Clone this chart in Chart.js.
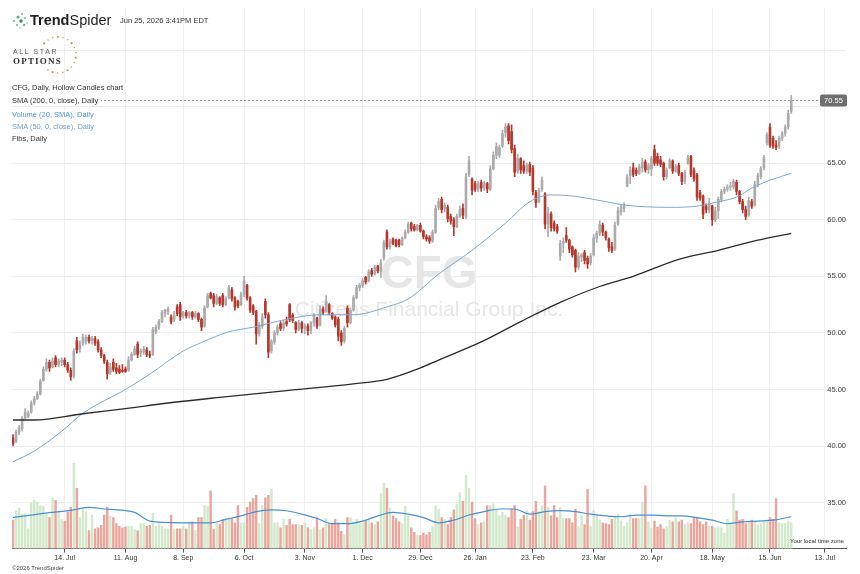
<!DOCTYPE html>
<html>
<head>
<meta charset="utf-8">
<script src="https://cdn.jsdelivr.net/npm/chart.js@4.4.1/dist/chart.umd.min.js"></script>
<style>
  html, body { margin:0; padding:0; background:#fff; }
  #wrap { position:relative; width:860px; height:574px; overflow:hidden; font-family:"Liberation Sans", Arial, sans-serif; }
  #chart { position:absolute; left:0; top:0; }
  .t { position:absolute; white-space:nowrap; color:#333; line-height:1; }
  .lg { font-size:7.5px; background:#fff; padding-right:3px; }
</style>
</head>
<body>
<div id="wrap">
  <canvas id="chart" width="860" height="574"></canvas>

  <svg class="t" style="left:10px;top:11px" width="20" height="20" viewBox="0 0 20 20">
    <circle cx="4" cy="10" r="1.3" fill="#8fc7a0"/><circle cx="8" cy="6" r="1.6" fill="#5fae7a"/>
    <circle cx="12" cy="3" r="1.2" fill="#9ccbb0"/><circle cx="11" cy="10" r="1.8" fill="#3f8f5e"/>
    <circle cx="15" cy="7" r="1.1" fill="#7fbf93"/><circle cx="7" cy="14" r="1.2" fill="#8fc7a0"/>
    <circle cx="14" cy="14" r="1.3" fill="#6fb487"/><circle cx="17" cy="12" r="0.9" fill="#a9d4b8"/>
    <circle cx="10" cy="17" r="0.9" fill="#a9d4b8"/>
  </svg>
  <div class="t" style="left:30px;top:13px;font-size:14.5px;color:#1f1f1f"><b>Trend</b>Spider</div>
  <div class="t" style="left:120px;top:17px;font-size:7.5px;color:#333">Jun 25, 2026 3:41PM EDT</div>

  <svg class="t" style="left:0px;top:30px" width="90" height="50" viewBox="0 0 90 50" id="stars"></svg>
  <div class="t" style="left:13px;top:48px;font-size:7px;letter-spacing:1.6px;color:#666">ALL STAR</div>
  <div class="t" style="left:13px;top:57px;font-size:9px;letter-spacing:1.2px;color:#333;font-family:'Liberation Serif',serif;font-weight:bold">OPTIONS</div>

  <div class="t lg" style="left:12px;top:84px;color:#333">CFG, Daily, Hollow Candles chart</div>
  <div class="t lg" style="left:12px;top:97px;color:#333">SMA (200, 0, close), Daily</div>
  <div class="t lg" style="left:12px;top:111px;color:#4f95d6">Volume (20, SMA), Daily</div>
  <div class="t lg" style="left:12px;top:123px;color:#6f9fcc">SMA (50, 0, close), Daily</div>
  <div class="t lg" style="left:12px;top:135px;color:#333">Fibs, Daily</div>

  <div class="t" style="left:790px;top:538px;font-size:6px;color:#333">Your local time zone</div>
  <div class="t" style="left:12px;top:565px;font-size:6px;color:#444">©2026 TrendSpider</div>
</div>
<script>
// CFG daily candles, Jun 17 2025 .. Jun 25 2026  [open, high, low, close]
const ohlc = [
  [40.7,41.0,40.0,40.2],[40.4,41.4,40.3,41.2],[41.2,41.8,41.0,41.6],[41.5,42.6,41.3,42.4],[42.5,43.3,42.3,43.0],
  [42.6,43.1,42.5,42.9],[43.0,44.0,42.9,43.8],[43.8,44.4,43.6,44.2],[44.2,44.8,44.1,44.6],[44.6,45.9,44.5,45.7],
  [45.8,47.0,45.7,46.8],[46.8,47.7,46.6,47.4],[47.4,47.6,46.6,46.9],[47.0,47.8,46.9,47.5],[47.8,48.0,47.0,47.2],
  [47.2,47.7,47.0,47.5],[47.4,47.8,47.1,47.6],[47.6,47.8,47.0,47.2],[47.2,47.4,46.5,46.7],[46.7,46.9,45.8,46.1],
  [46.2,48.6,46.0,48.4],[49.3,49.6,48.2,48.5],[48.6,49.3,48.3,49.1],[49.1,49.9,48.9,49.6],[49.2,49.8,49.0,49.6],
  [49.6,49.8,49.1,49.3],[49.3,49.7,49.0,49.5],[49.5,49.7,48.9,49.1],[49.2,49.4,48.3,48.5],[48.5,48.7,47.8,48.0],
  [48.0,48.1,47.3,47.5],[47.4,47.6,45.9,46.4],[46.5,47.3,46.3,47.0],[47.4,47.7,46.6,46.8],[46.9,47.3,46.4,46.6],
  [46.8,47.1,46.4,46.5],[46.7,47.2,46.5,46.6],[46.8,47.0,46.5,46.6],[46.7,47.9,46.6,47.6],[47.6,48.3,47.5,48.1],
  [48.1,48.8,48.0,48.6],[49.0,49.2,47.8,48.1],[48.2,48.6,47.9,48.4],[48.3,48.8,48.1,48.6],[48.5,48.7,47.9,48.1],
  [48.1,48.4,47.8,48.0],[48.1,50.5,48.0,50.3],[50.1,50.7,49.9,50.5],[50.5,51.2,50.3,51.0],[51.0,52.0,50.9,51.8],
  [51.7,52.1,51.4,52.0],[51.9,52.3,51.6,52.1],[51.4,51.6,50.8,51.0],[51.2,51.9,51.0,51.6],[52.3,52.5,51.5,51.7],
  [52.5,52.7,51.1,51.4],[51.5,51.9,51.3,51.8],[51.8,52.0,51.3,51.5],[51.5,51.9,51.3,51.8],[51.8,51.9,51.2,51.4],
  [51.4,51.9,51.3,51.7],[51.7,51.8,51.0,51.2],[51.2,51.3,50.2,50.5],[50.6,52.4,50.5,52.2],[52.3,53.5,52.2,53.3],
  [53.5,53.6,53.0,53.1],[53.3,53.5,52.3,52.6],[52.6,53.4,52.5,53.2],[53.1,53.2,52.4,52.6],[53.3,53.5,52.3,52.5],
  [52.5,53.2,52.4,53.0],[53.1,54.2,53.0,54.0],[53.8,54.0,52.8,53.0],[53.1,53.2,52.0,52.3],[52.8,52.9,52.2,52.4],
  [52.5,53.6,52.4,53.4],[53.4,55.0,53.2,54.6],[54.2,54.3,52.9,53.1],[53.1,53.2,51.8,52.0],[52.4,52.5,51.6,51.8],
  [51.9,52.0,49.0,49.9],[49.9,50.9,49.7,50.7],[50.6,51.7,50.4,51.4],[52.8,53.0,51.3,51.6],[51.6,51.8,47.8,48.3],
  [48.4,49.4,48.2,49.2],[49.2,50.2,49.0,50.0],[50.0,50.7,49.8,50.5],[50.8,51.0,50.2,50.4],[50.4,51.1,50.2,50.9],
  [51.0,51.4,50.6,50.8],[52.5,52.6,51.0,51.2],[51.6,51.7,50.9,51.1],[50.9,51.0,50.0,50.3],[50.3,51.1,50.2,50.9],
  [50.9,51.0,50.0,50.4],[50.4,50.8,49.9,50.6],[50.6,50.8,49.8,50.2],[50.2,51.0,49.9,50.9],[50.9,51.7,50.6,51.5],
  [51.3,51.4,50.4,50.6],[50.7,52.4,50.6,52.1],[52.1,52.3,51.6,51.8],[51.9,53.3,51.8,52.8],[52.5,52.6,51.6,51.8],
  [51.7,51.8,51.2,51.3],[51.4,51.5,50.5,50.7],[51.2,51.4,49.3,49.7],[50.0,50.2,48.9,49.2],[49.3,50.6,49.1,50.4],
  [52.2,52.4,50.5,50.9],[50.9,52.2,50.8,52.0],[52.0,53.3,51.9,53.1],[53.1,54.2,53.0,54.0],[54.0,54.4,53.7,54.2],
  [54.2,54.8,54.0,54.6],[54.9,55.0,54.3,54.5],[54.6,55.6,54.5,55.4],[55.5,55.7,55.0,55.2],[55.2,56.0,55.1,55.8],
  [55.9,56.0,55.3,55.5],[55.4,56.5,54.9,56.2],[56.6,58.2,56.4,58.0],[58.9,59.1,57.4,57.6],[57.6,58.3,57.4,58.1],
  [58.3,58.4,57.8,57.9],[58.2,58.3,57.6,57.7],[58.2,58.3,57.6,57.8],[57.8,58.5,57.7,58.4],[58.4,59.1,58.3,58.9],
  [58.9,59.8,58.8,59.6],[59.7,59.8,59.0,59.2],[59.4,59.6,59.0,59.1],[59.1,59.6,59.0,59.5],[59.5,59.7,58.9,59.0],
  [59.0,59.1,58.3,58.5],[58.5,58.7,58.1,58.3],[58.4,58.6,57.9,58.1],[58.1,59.1,58.0,58.9],[58.9,61.3,58.8,61.0],
  [61.1,61.9,60.9,61.6],[61.8,62.0,60.6,60.9],[61.0,61.5,60.7,61.3],[61.1,61.3,59.8,60.1],[60.3,60.5,59.6,59.9],
  [60.0,60.2,58.6,59.4],[59.4,60.5,59.3,60.3],[60.3,61.2,60.2,60.9],[61.0,61.4,60.1,60.4],[60.3,64.1,60.1,63.8],
  [64.0,65.6,63.8,65.2],[63.6,63.7,62.2,62.6],[63.2,63.4,62.5,62.7],[62.7,63.4,62.5,63.2],[63.3,63.5,62.5,62.8],
  [62.8,63.4,62.6,63.2],[63.2,63.3,62.4,62.7],[62.7,64.8,62.6,64.5],[64.5,66.0,64.4,65.7],[65.7,66.8,65.4,66.5],
  [65.7,66.6,65.5,66.4],[66.5,67.9,66.4,67.6],[67.7,68.5,67.3,68.2],[68.3,68.5,66.7,67.0],[67.8,68.4,65.9,66.2],
  [66.3,66.6,63.8,64.2],[64.3,65.8,64.1,65.4],[65.4,65.5,64.1,64.4],[64.8,65.2,64.1,64.3],[64.3,65.0,64.1,64.8],
  [64.9,65.1,63.9,64.2],[64.6,64.8,62.2,62.5],[62.4,62.6,61.1,61.5],[61.6,62.8,61.5,62.6],[62.7,63.8,62.5,63.5],
  [62.3,62.4,59.2,59.6],[59.6,61.1,58.5,60.6],[60.5,60.7,59.0,59.3],[59.7,59.9,59.0,59.2],[59.4,59.6,58.8,59.0],
  [56.8,58.2,56.4,57.9],[57.9,58.4,57.1,58.1],[58.6,59.3,58.0,58.2],[58.2,58.3,57.1,57.4],[57.6,57.7,56.7,56.9],
  [57.3,57.4,55.4,55.8],[55.8,57.1,55.6,56.8],[56.7,57.0,56.3,56.9],[57.1,57.3,56.1,56.4],[56.6,56.8,55.7,56.1],
  [56.2,57.0,56.0,56.8],[56.9,58.7,56.8,58.4],[58.4,59.0,58.0,58.8],[58.8,59.9,58.6,59.6],[59.5,59.7,58.6,58.9],
  [58.9,59.0,58.2,58.4],[58.3,58.4,57.2,57.5],[57.6,58.0,57.1,57.3],[57.4,59.8,57.3,59.5],[59.6,61.1,59.5,60.8],
  [60.7,61.3,60.4,61.1],[61.0,61.5,60.7,61.3],[63.0,64.0,62.9,63.8],[63.9,64.7,63.2,64.4],[64.6,65.0,63.8,64.0],
  [64.4,64.6,63.9,64.1],[64.1,64.9,64.0,64.7],[64.6,65.4,64.2,65.1],[65.1,65.3,64.2,64.4],[64.4,65.0,64.1,64.8],
  [64.5,65.6,63.9,65.4],[66.2,66.6,64.8,65.0],[65.6,65.9,64.8,65.0],[65.3,65.6,64.7,64.9],[65.0,65.1,63.5,63.8],
  [63.8,64.6,63.6,64.4],[64.6,65.4,64.5,65.2],[65.2,65.3,64.1,64.3],[64.3,64.9,64.2,64.7],[64.8,65.0,63.9,64.1],
  [64.1,64.2,63.1,63.4],[63.4,64.4,63.2,64.2],[65.0,65.7,64.9,65.5],[65.6,65.7,63.8,64.0],[64.4,64.6,63.4,63.6],
  [64.0,64.1,61.7,62.0],[62.4,62.6,61.7,61.9],[62.1,62.2,60.1,60.5],[61.2,61.4,60.6,60.9],[60.9,61.9,60.6,61.5],
  [61.2,61.3,59.5,60.0],[60.0,61.1,59.8,60.8],[60.8,62.0,60.1,61.8],[61.8,62.7,61.6,62.5],[62.5,62.9,62.3,62.7],
  [62.7,63.1,62.5,62.9],[62.9,63.3,62.6,63.0],[62.9,63.6,62.7,63.4],[63.3,63.5,62.2,62.5],[62.5,62.6,61.4,61.6],
  [61.6,61.8,60.6,60.9],[60.9,61.2,60.0,60.3],[60.4,62.0,60.3,61.7],[61.6,61.8,61.0,61.2],[61.3,63.4,61.2,63.1],
  [63.1,64.1,62.9,63.9],[63.8,64.7,63.6,64.5],[64.6,65.7,64.4,65.5],[66.8,67.7,66.6,67.5],[68.2,68.5,66.4,66.6],
  [67.2,67.4,66.3,66.5],[66.6,67.0,66.2,66.4],[66.5,67.4,66.3,67.2],[67.2,67.8,67.0,67.6],[67.6,68.4,67.4,68.2],
  [68.2,69.7,68.0,69.4],[69.6,71.0,69.4,70.55]
];

// daily volume, millions
const volumes = [
  3.3,4.4,4.7,4.0,4.1,2.3,5.3,5.6,5.4,5.0, 4.9,4.0,3.6,5.9,5.6,4.4,3.4,3.2,4.2,4.8,
  9.9,7.0,3.6,4.5,4.3,2.1,3.9,2.3,2.4,2.7, 3.9,4.8,3.8,3.6,2.9,2.6,2.4,2.5,2.6,2.6,
  2.2,2.1,2.9,2.9,2.6,2.7,4.1,2.6,2.9,2.6, 2.3,2.3,3.9,2.3,2.3,2.3,2.6,2.3,3.1,3.1,
  2.1,3.6,3.6,5.0,4.9,6.7,2.2,2.9,2.8,3.4, 3.5,3.6,3.5,3.0,5.0,3.0,3.0,4.8,5.4,5.8,
  6.2,2.9,5.0,5.9,6.2,6.9,3.0,3.0,2.4,3.4, 2.7,3.4,2.8,2.8,2.8,2.7,3.0,2.4,2.2,2.4,
  3.6,2.2,2.4,3.5,2.9,2.9,3.4,3.0,2.0,1.6, 3.6,3.6,3.1,3.4,2.9,3.0,3.2,3.3,3.0,2.8,
  3.1,6.4,7.6,7.0,4.7,3.8,3.5,3.1,2.9,4.9, 3.8,2.4,1.9,1.6,1.5,1.8,1.6,1.9,2.6,5.0,
  4.6,3.6,3.4,2.8,3.6,4.5,5.2,6.5,5.5,8.5, 7.0,5.4,3.5,2.8,3.0,3.1,5.0,5.0,5.2,4.5,
  3.8,4.2,3.9,3.6,4.6,5.0,2.5,3.4,3.9,4.4, 3.3,4.3,5.5,4.3,5.0,7.3,4.8,3.8,5.0,3.6,
  4.8,3.5,3.5,3.5,3.0,4.6,2.6,3.8,2.8,6.9, 2.6,4.4,3.8,3.3,3.0,2.9,2.8,3.4,3.8,4.0,
  3.2,2.6,3.0,4.0,3.5,3.5,3.5,5.4,7.3,3.1, 2.4,3.2,2.5,2.8,2.3,2.6,3.3,3.1,3.6,3.1,
  3.3,2.8,3.0,2.9,3.6,3.6,3.1,2.8,3.1,2.6, 2.6,2.4,2.5,2.4,1.8,3.4,3.0,6.4,4.4,3.3,
  3.4,2.9,3.0,3.3,3.1,2.8,2.9,3.1,3.3,3.6, 3.4,5.8,3.0,2.9,2.9,3.2,3.0
];

// moving averages: [trading-day index, value]
const sma200Pts = [[0,42.3],[7,42.3],[23,42.85],[37,43.3],[51,43.8],[68,44.3],[90,44.9],[112,45.5],[123,45.9],
  [134,46.9],[140,47.6],[154,49.2],[167,51.0],[180,52.7],[193,54.1],[204,55.0],[219,56.5],[232,57.3],[245,58.2],[256,58.8]];
const sma50Pts = [[0,38.6],[7,39.55],[16,41.3],[23,42.9],[37,45.0],[45,46.35],[56,48.4],[62,49.15],[71,50.1],[79,50.5],
  [90,51.2],[101,51.6],[112,51.6],[123,52.3],[130,53.0],[140,55.2],[151,57.3],[162,59.7],[170,61.6],[177,62.2],
  [184,62.1],[195,61.6],[201,61.3],[216,61.1],[225,61.2],[232,61.6],[238,62.0],[243,62.8],[249,63.5],[256,64.1]];
const volSmaPts = [[0,3.6],[10,4.1],[20,4.5],[25,4.8],[30,4.6],[40,4.2],[45,3.2],[55,3.0],[65,3.0],[70,3.4],[75,3.8],
  [80,4.3],[85,4.5],[90,4.4],[95,4.0],[100,3.5],[105,2.9],[110,2.9],[115,3.2],[120,3.8],[125,4.2],[130,4.0],[135,3.6],
  [140,3.0],[145,3.3],[150,3.9],[155,4.3],[160,4.6],[165,4.6],[170,4.0],[175,4.3],[180,4.4],[185,4.3],[190,4.0],
  [195,3.8],[200,3.7],[205,3.9],[210,3.9],[215,3.8],[220,3.8],[225,3.6],[230,3.3],[235,2.9],[240,3.1],[245,3.2],
  [250,3.3],[256,3.7]];

const priceTicks = [35, 40, 45, 50, 55, 60, 65, 70, 75];
const tickLabels = ['14. Jul','11. Aug','8. Sep','6. Oct','3. Nov','1. Dec','29. Dec','26. Jan','23. Feb','23. Mar','20. Apr','18. May','15. Jun','13. Jul'];
const tickDates = ['2025-07-14','2025-08-11','2025-09-08','2025-10-06','2025-11-03','2025-12-01','2025-12-29',
  '2026-01-26','2026-02-23','2026-03-23','2026-04-20','2026-05-18','2026-06-15','2026-07-13'];
const holidays = ['2025-06-19','2025-07-04','2025-09-01','2025-11-27','2025-12-25','2026-01-01','2026-01-19',
  '2026-02-16','2026-04-03','2026-05-25','2026-06-19','2026-07-03'];

// trading-day calendar (index 0 = 2025-06-17)
const days = [];
for (let d = new Date(Date.UTC(2025, 5, 17)); d <= new Date(Date.UTC(2026, 6, 31)); d.setUTCDate(d.getUTCDate() + 1)) {
  const s = d.toISOString().slice(0, 10);
  const wd = d.getUTCDay();
  if (wd === 0 || wd === 6 || holidays.includes(s)) continue;
  days.push(s);
}
const tickIdx = tickDates.map(s => days.indexOf(s));

const FONT = '"Liberation Sans", Arial, sans-serif';
Chart.defaults.font.family = FONT;

const UP = '#ababab', DOWN = '#b5382c';
const up = ohlc.map(r => r[3] >= r[0]);
const lastPrice = ohlc[ohlc.length - 1][3];
const toXY = pts => pts.map(p => ({x: p[0], y: p[1]}));

const watermark = {
  id: 'watermark',
  beforeDatasetsDraw(chart) {
    const {ctx, chartArea: a} = chart;
    const cx = (a.left + a.right) / 2;
    ctx.save();
    ctx.fillStyle = '#e6e6e6';
    ctx.textAlign = 'center';
    ctx.font = 'bold 46px ' + FONT;
    ctx.fillText('CFG', cx, 288);
    ctx.font = '21px ' + FONT;
    ctx.fillText('Citizens Financial Group Inc.', cx, 316);
    ctx.restore();
  }
};

const lastPriceMark = {
  id: 'lastPrice',
  afterDraw(chart) {
    const {ctx, chartArea: a} = chart;
    const y = Math.round(chart.scales.y.getPixelForValue(lastPrice)) + 0.5;
    ctx.save();
    ctx.strokeStyle = '#9a9a9a';
    ctx.lineWidth = 1;
    ctx.setLineDash([2, 2]);
    ctx.beginPath();
    ctx.moveTo(a.left, y);
    ctx.lineTo(a.right - 26, y);
    ctx.stroke();
    ctx.setLineDash([]);
    ctx.fillStyle = '#6e6e6e';
    ctx.beginPath();
    ctx.roundRect(a.right - 26, y - 6, 27, 12, 2);
    ctx.fill();
    ctx.fillStyle = '#fff';
    ctx.font = '7.5px ' + FONT;
    ctx.textAlign = 'center';
    ctx.textBaseline = 'middle';
    ctx.fillText(lastPrice.toFixed(2), a.right - 12.5, y + 0.5);
    ctx.restore();
  }
};

new Chart(document.getElementById('chart'), {
  type: 'bar',
  data: {
    datasets: [
      {
        type: 'line', label: 'SMA 200', data: toXY(sma200Pts),
        borderColor: '#2b2b2b', borderWidth: 1.3, pointRadius: 0,
        cubicInterpolationMode: 'monotone', yAxisID: 'y', order: 0
      },
      {
        type: 'line', label: 'SMA 50', data: toXY(sma50Pts),
        borderColor: '#7fa8d0', borderWidth: 1, pointRadius: 0,
        cubicInterpolationMode: 'monotone', yAxisID: 'y', order: 1
      },
      {
        label: 'Bodies', data: ohlc.map((r, i) => ({x: i, y: [r[0], r[3]]})),
        backgroundColor: up.map(u => u ? UP : DOWN), barThickness: 2, minBarLength: 1,
        grouped: false, yAxisID: 'y', order: 2
      },
      {
        label: 'Wicks', data: ohlc.map((r, i) => ({x: i, y: [r[2], r[1]]})),
        backgroundColor: up.map(u => u ? UP : DOWN), barThickness: 1,
        grouped: false, yAxisID: 'y', order: 3
      },
      {
        type: 'line', label: 'Volume SMA', data: toXY(volSmaPts),
        borderColor: '#4a8fd3', borderWidth: 1.2, pointRadius: 0,
        cubicInterpolationMode: 'monotone', yAxisID: 'yv', order: 4
      },
      {
        label: 'Volume', data: volumes.map((v, i) => ({x: i, y: v})),
        backgroundColor: up.map(u => u ? '#d2eacb' : '#eaa69d'), barThickness: 1.8,
        grouped: false, yAxisID: 'yv', order: 5
      }
    ]
  },
  options: {
    responsive: false,
    animation: false,
    events: [],
    layout: {padding: {left: 12, right: 14, top: 8, bottom: 11}},
    plugins: {legend: {display: false}, tooltip: {enabled: false}},
    scales: {
      x: {
        type: 'linear', min: -0.33, max: 274, offset: false,
        afterBuildTicks: s => { s.ticks = tickIdx.map(v => ({value: v})); },
        ticks: {
          autoSkip: false, maxRotation: 0, padding: 1, color: '#333', font: {size: 7},
          callback: v => tickLabels[tickIdx.indexOf(v)]
        },
        grid: {color: '#efefef', tickColor: '#555', tickLength: 4, offset: false},
        border: {color: '#555'}
      },
      y: {
        type: 'linear', position: 'right', min: 30.93, max: 78.72,
        afterBuildTicks: s => { s.ticks = priceTicks.map(v => ({value: v})); },
        ticks: {mirror: true, padding: 0, color: '#444', font: {size: 7.5},
          callback: v => v <= 65 ? v.toFixed(2) : ''},
        grid: {color: '#efefef', drawTicks: false},
        border: {display: false}
      },
      yv: {type: 'linear', display: false, min: 0, max: 62.8}
    }
  },
  plugins: [watermark, lastPriceMark]
});

// gold star ring of the ALL STAR OPTIONS logo
const svg = document.getElementById('stars');
for (let k = 0; k < 17; k++) {
  const ang = (-140 + k * 16.5) * Math.PI / 180;
  const c = document.createElementNS('http://www.w3.org/2000/svg', 'circle');
  c.setAttribute('cx', 58 + 18 * Math.cos(ang));
  c.setAttribute('cy', 25 + 18 * Math.sin(ang));
  c.setAttribute('r', k % 3 === 0 ? 1.1 : 0.8);
  c.setAttribute('fill', '#c9a45c');
  svg.appendChild(c);
}
</script>
</body>
</html>
